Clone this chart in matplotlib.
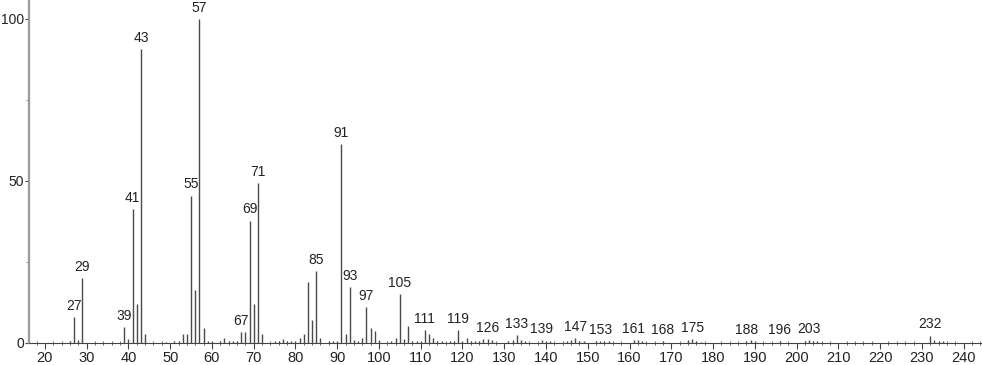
import matplotlib
matplotlib.use("Agg")
import matplotlib.pyplot as plt
from matplotlib.ticker import MultipleLocator, FixedLocator

plt.rcParams["font.family"] = ["Liberation Sans", "DejaVu Sans"]

mz = [26, 27, 28, 29, 39, 40, 41, 42, 43, 44, 49, 51, 52, 53, 54, 55, 56, 57, 58, 59, 60,
      62, 63, 64, 65, 66, 67, 68, 69, 70, 71, 72, 75, 76, 77, 78, 79, 80, 81, 82, 83, 84,
      85, 86, 88, 89, 90, 91, 92, 93, 94, 95, 96, 97, 98, 99, 100, 103, 104, 105, 106,
      107, 108, 109, 110, 111, 112, 113, 114, 115, 117, 118, 119, 120, 121, 122, 123,
      124, 125, 126, 127, 131, 132, 133, 134, 135, 139, 140, 141, 145, 146, 147, 148,
      149, 152, 153, 154, 155, 161, 162, 163, 168, 174, 175, 176, 177, 188, 189, 190,
      196, 202, 203, 204, 205, 232, 233, 234, 235]
intensity = [0.6, 8.0, 0.8, 19.9, 4.7, 1.1, 41.2, 11.8, 90.6, 2.8, 0.3, 0.5, 0.5, 2.6, 2.7,
             45.4, 16.3, 100.0, 4.4, 0.6, 0.5, 0.5, 1.6, 0.6, 0.6, 0.5, 3.4, 3.3, 37.7, 11.8,
             49.2, 2.8, 0.5, 0.5, 1.0, 0.5, 0.4, 0.5, 1.4, 2.7, 18.7, 7.0, 22.1, 1.6, 0.4,
             0.5, 0.5, 61.2, 2.6, 17.1, 0.8, 0.6, 1.5, 10.9, 4.4, 3.5, 0.7, 0.5, 1.5, 15.0,
             1.2, 5.2, 0.6, 0.5, 0.5, 4.0, 2.7, 1.5, 0.6, 0.5, 0.4, 0.6, 3.9, 0.5, 1.5, 0.5,
             0.5, 0.4, 1.2, 1.2, 0.8, 0.5, 0.7, 2.3, 0.8, 0.5, 0.8, 0.5, 0.4, 0.5, 0.8, 1.5,
             0.6, 0.5, 0.5, 0.6, 0.5, 0.4, 0.7, 0.8, 0.5, 0.5, 0.7, 1.0, 0.6, 0.3, 0.5, 0.7,
             0.4, 0.5, 0.5, 0.8, 0.6, 0.4, 2.2, 0.8, 0.6, 0.4]

labeled = [27, 29, 39, 41, 43, 55, 57, 67, 69, 71, 85, 91, 93, 97, 105, 111, 119, 126,
           133, 139, 147, 153, 161, 168, 175, 188, 196, 203, 232]

x_ticks = list(range(20, 241, 10))
y_ticks = [0, 50, 100]

fig = plt.figure(figsize=(9.82, 3.65), dpi=100)
ax = fig.add_axes([29 / 982, 22.3 / 365, 1 - 29 / 982, 342.7 / 365])

ax.vlines(mz, 0, intensity, colors="#4a4a4a", linewidth=1.0)

lookup = dict(zip(mz, intensity))
for m in labeled:
    ax.annotate(str(m), xy=(m, lookup[m]), xytext=(0, 3), textcoords="offset points",
                ha="center", va="bottom", fontsize=10, color="#222222")

ax.set_xlim(16.2, 244.4)
ax.set_ylim(0, 105.8)

for s in ["top", "right"]:
    ax.spines[s].set_visible(False)
ax.spines["left"].set_color("#9a9a9a")
ax.spines["left"].set_linewidth(1.6)
ax.spines["bottom"].set_color("#444444")
ax.spines["bottom"].set_linewidth(0.8)

ax.xaxis.set_major_locator(FixedLocator(x_ticks))
ax.xaxis.set_minor_locator(MultipleLocator(2))
ax.yaxis.set_major_locator(FixedLocator(y_ticks))
ax.yaxis.set_minor_locator(FixedLocator([25, 75]))

ax.tick_params(axis="x", which="major", length=4, width=0.8, color="#444444",
               labelsize=10.5, labelcolor="#222222", pad=2)
ax.tick_params(axis="x", which="minor", length=3, width=0.6, color="#555555",
               direction="inout")
ax.tick_params(axis="y", which="major", length=3, width=0.8, color="#444444",
               labelsize=10, labelcolor="#222222", pad=0.5)
ax.tick_params(axis="y", which="minor", length=2, width=0.6, color="#777777")

fig.savefig("out.png", dpi=100)
